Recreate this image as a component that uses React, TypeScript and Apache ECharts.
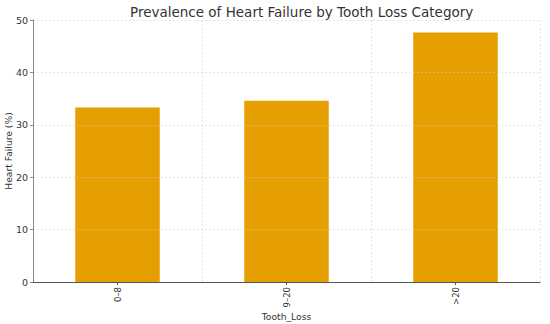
import React, { useEffect, useRef } from "react";
import * as echarts from "echarts";

const categories = ["0–8", "9–20", ">20"];
const values = [33.3, 34.6, 47.6];
const yTicks = [0, 10, 20, 30, 40, 50];

export default function App() {
  const ref = useRef<HTMLDivElement>(null);
  useEffect(() => {
    if (!ref.current) return;
    const chart = echarts.init(ref.current, null, { renderer: "svg" });
    const font = "DejaVu Sans";
    chart.setOption({
      animation: false,
      textStyle: { fontFamily: font },
      title: {
        text: "Prevalence of Heart Failure by Tooth Loss Category",
        left: 125,
        top: 0,
        textStyle: { fontSize: 13.5, fontWeight: "normal", color: "#333", fontFamily: font },
      },
      grid: { left: 33, right: 10, top: 20, bottom: 42, containLabel: false, outerBoundsMode: "none" },
      xAxis: {
        type: "category",
        data: categories,
        z: 5,
        name: "Tooth_Loss",
        nameLocation: "middle",
        nameGap: 30,
        nameMoveOverlap: false,
        nameTextStyle: { fontSize: 9.2, color: "#333", fontFamily: font },
        axisLine: { lineStyle: { color: "#555", width: 1 } },
        axisTick: { show: true, alignWithLabel: true, length: 3, lineStyle: { color: "#555" } },
        axisLabel: { rotate: 90, fontSize: 8.5, color: "#333", margin: 5, fontFamily: font },
        splitLine: { show: true, lineStyle: { color: "rgba(200,200,200,0.6)", type: [2, 2], width: 0.8 } },
      },
      yAxis: {
        type: "value",
        min: 0,
        max: 50,
        interval: 10,
        z: 5,
        name: "Heart Failure (%)",
        nameLocation: "middle",
        nameGap: 20,
        nameMoveOverlap: false,
        nameTextStyle: { fontSize: 9.2, color: "#333", fontFamily: font },
        axisLine: { show: true, lineStyle: { color: "#888", width: 1 } },
        axisTick: { show: true, length: 3, lineStyle: { color: "#888" } },
        axisLabel: {
          fontSize: 9.5,
          color: "#333",
          margin: 5,
          fontFamily: font,
          formatter: (v: number) => (yTicks.includes(v) ? String(v) : ""),
        },
        splitLine: { show: true, lineStyle: { color: "rgba(200,200,200,0.6)", type: [2, 2], width: 0.8 } },
      },
      series: [
        {
          type: "bar",
          data: values,
          barWidth: "50%",
          itemStyle: { color: "#E69F00" },
        },
      ],
    });
    return () => chart.dispose();
  }, []);
  return <div ref={ref} style={{ width: 550, height: 324, position: "absolute", left: 0, top: 0 }} />;
}
